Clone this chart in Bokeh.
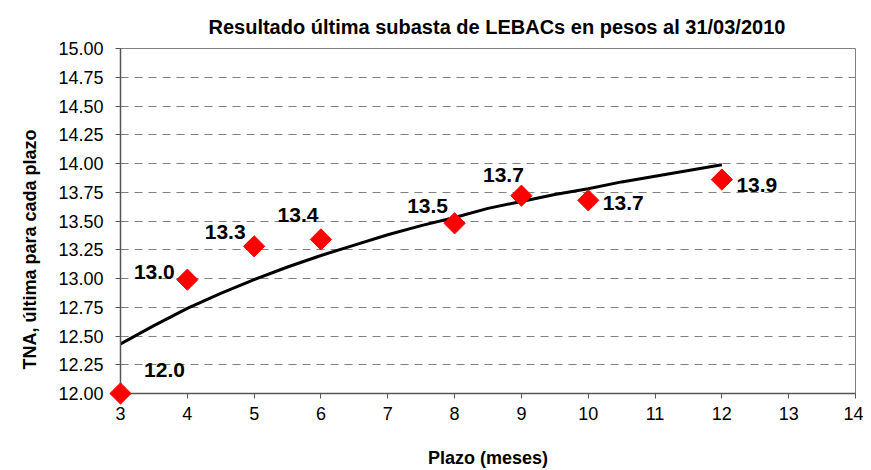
from bokeh.plotting import figure
from bokeh.models import FixedTicker, NumeralTickFormatter, ColumnDataSource, Range1d, Title
from bokeh.core.properties import value
from bokeh.embed import file_html
from bokeh.resources import INLINE

# Data
plazo = [3, 4, 5, 6, 8, 9, 10, 12]
tna = [12.00, 12.99, 13.28, 13.34, 13.48, 13.72, 13.68, 13.86]
labels = ["12.0", "13.0", "13.3", "13.4", "13.5", "13.7", "13.7", "13.9"]

trend_x = [3, 3.5, 4, 4.5, 5, 5.5, 6, 6.5, 7, 7.5, 8, 8.5, 9, 9.5, 10, 10.5, 11, 11.5, 12]
trend_y = [12.43, 12.59, 12.74, 12.87, 12.99, 13.10, 13.20, 13.29, 13.38, 13.46, 13.53,
           13.61, 13.67, 13.73, 13.78, 13.84, 13.89, 13.94, 13.99]

y_ticks = [12.00, 12.25, 12.50, 12.75, 13.00, 13.25, 13.50, 13.75, 14.00, 14.25, 14.50, 14.75, 15.00]
x_ticks = [3, 4, 5, 6, 7, 8, 9, 10, 11, 12, 13, 14]

# label offsets (screen px, y downward)
label_dx = [44, -33, -29, -23, -27, -18, 35, 35]
label_dy = [-24, -8, -14, -24, -17, -21, 3, 5]

FONT = "Liberation Sans"

p = figure(width=863, height=470, output_backend="svg", toolbar_location=None,
           x_range=Range1d(3, 14), y_range=Range1d(12, 15),
           min_border_left=120, min_border_right=8, min_border_top=48, min_border_bottom=76)

p.title.text = "Resultado última subasta de LEBACs en pesos al 31/03/2010"
p.title.align = "left"
p.title.text_font = FONT
p.title.text_font_size = "20px"
p.title.text_font_style = "bold"
p.title.text_color = "black"
p.title.offset = 88
p.title.standoff = 22

p.outline_line_color = "#808080"
p.outline_line_width = 1

p.xgrid.visible = False
p.ygrid.ticker = FixedTicker(ticks=y_ticks)
p.ygrid.grid_line_color = "#808080"
p.ygrid.grid_line_dash = "8 6"
p.ygrid.grid_line_width = 1

p.yaxis.ticker = FixedTicker(ticks=y_ticks)
p.yaxis.formatter = NumeralTickFormatter(format="0.00")
p.xaxis.ticker = FixedTicker(ticks=x_ticks)

for ax in (p.xaxis[0], p.yaxis[0]):
    ax.axis_line_color = "#555555"
    ax.axis_line_width = 1.5
    ax.major_tick_line_color = "#555555"
    ax.major_tick_out = 5
    ax.major_tick_in = 0
    ax.minor_tick_line_color = None
    ax.major_label_text_font = FONT
    ax.major_label_text_font_size = "18px"
    ax.major_label_text_color = "black"
    ax.axis_label_text_font = FONT
    ax.axis_label_text_font_size = "18px"
    ax.axis_label_text_font_style = "bold"
    ax.axis_label_text_color = "black"

p.xaxis.axis_label = "Plazo (meses)"
p.xaxis.major_label_standoff = 8
p.yaxis.major_label_standoff = 12
p.xaxis.axis_label_standoff = 25

ytitle = Title(text="TNA, última para cada plazo", align="left", offset=24,
               text_font=FONT, text_font_size="18px", text_font_style="bold",
               text_color="black", standoff=32)
p.add_layout(ytitle, "left")

p.line(trend_x, trend_y, line_color="black", line_width=3)

src = ColumnDataSource(dict(x=plazo, y=tna, t=labels, dx=label_dx, dy=label_dy))
p.scatter("x", "y", source=src, marker="square", angle=0.785398, size=15,
          fill_color="#FF0000", line_color="#FF0000", level="overlay")
p.text("x", "y", text="t", source=src, x_offset="dx", y_offset="dy",
       text_font=value(FONT), text_font_size="21px", text_font_style="bold",
       text_align="center", text_baseline="middle", text_color="black")

open("out.html", "w").write(file_html(p, INLINE))
